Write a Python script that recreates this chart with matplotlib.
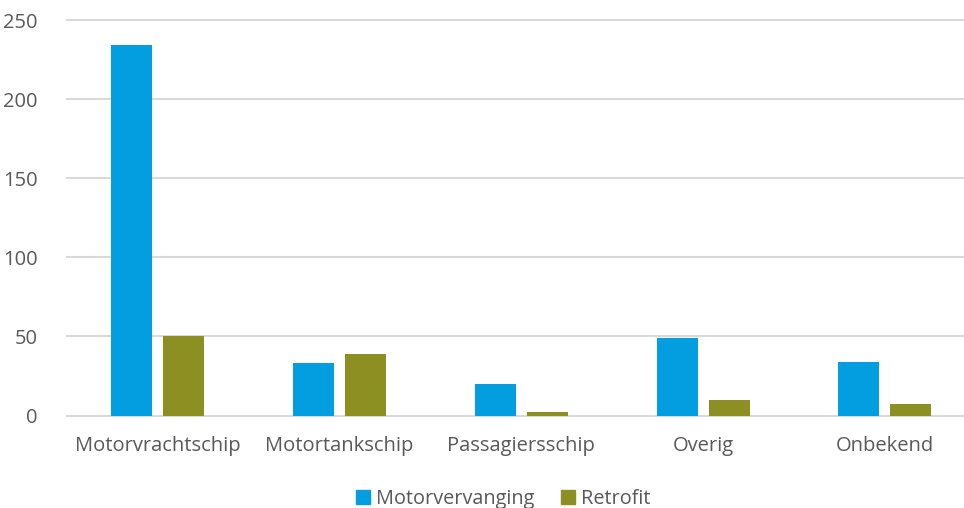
import matplotlib
matplotlib.use("Agg")
import matplotlib.pyplot as plt
import numpy as np
from matplotlib.patches import Patch

categories = ["Motorvrachtschip", "Motortankschip", "Passagiersschip", "Overig", "Onbekend"]
motorvervanging = [234, 33, 20, 49, 34]
retrofit = [50, 39, 2, 10, 7]
series_names = ["Motorvervanging", "Retrofit"]
yticks = [0, 50, 100, 150, 200, 250]

blue = "#029EDF"
olive = "#8C8F22"
text_color = "#595959"
grid_color = "#D9D9D9"

plt.rcParams["font.family"] = ["Open Sans", "DejaVu Sans"]

fig = plt.figure(figsize=(9.64, 5.08), dpi=100)
ax = fig.add_axes([0.0695, 0.182, 0.9427, 0.7785])

x = np.arange(len(categories))
w = 0.226
off = 0.143
ax.bar(x - off, motorvervanging, width=w, color=blue, zorder=3)
ax.bar(x + off, retrofit, width=w, color=olive, zorder=3)

ax.set_xlim(-0.5, len(categories) - 0.5)
ax.set_ylim(0, 250)
ax.set_yticks(yticks)
ax.set_yticklabels([str(t) for t in yticks])
for t in yticks:
    ax.axhline(t, color=grid_color, lw=1.5, zorder=1, clip_on=False)

ax.set_xticks(x)
ax.set_xticklabels(categories)
ax.tick_params(axis="both", length=0, labelsize=14.5, labelcolor=text_color)
ax.tick_params(axis="x", pad=15)
ax.tick_params(axis="y", pad=21)
for s in ax.spines.values():
    s.set_visible(False)

handles = [Patch(color=blue), Patch(color=olive)]
fig.legend(handles, series_names, loc="lower center", bbox_to_anchor=(0.522, -0.037),
           ncol=2, frameon=False, fontsize=14.3, labelcolor=text_color,
           handlelength=0.72, handleheight=0.72, handletextpad=0.3, columnspacing=1.3)

fig.savefig("out.png", dpi=100)
